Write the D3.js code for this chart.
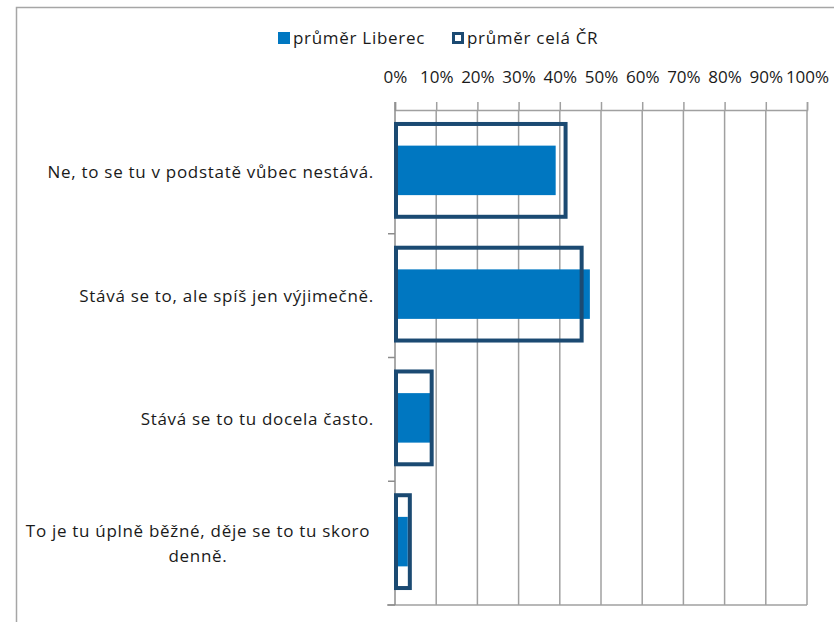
<!DOCTYPE html>
<html>
<head>
<meta charset="utf-8">
<script src="https://cdn.jsdelivr.net/npm/d3@7"></script>
<style>
  body { margin: 0; background: #fff; }
  svg text { font-family: "Open Sans", "Noto Sans", sans-serif; fill: #1a1a1a; }
</style>
</head>
<body>
<div id="chart"></div>
<script>
// categories (top to bottom) and values in percent
const categories = [
    "Ne, to se tu v podstatě vůbec nestává.",
    "Stává se to, ale spíš jen výjimečně.",
    "Stává se to tu docela často.",
    "To je tu úplně běžné, děje se to tu skoro denně."
];
const liberec = [39.0, 47.3, 8.5, 3.1];
const celaCR = [41.4, 45.3, 8.9, 3.6];
const tickValues = [0, 10, 20, 30, 40, 50, 60, 70, 80, 90, 100];
const seriesNames = ["průměr Liberec", "průměr celá ČR"];

const W = 834, H = 622;
const colFill = "#0077c1", colLine = "#1b4a72", colGrid = "#a0a0a0";
const fontSize = 17, spacing = 0.7;

const svg = d3.select("#chart").append("svg")
    .attr("width", W)
    .attr("height", H);

// chart border
svg.append("rect")
    .attr("x", 16.5).attr("y", 7.5)
    .attr("width", W + 20).attr("height", H + 20)
    .attr("fill", "none")
    .attr("stroke", "#a6a6a6")
    .attr("stroke-width", 1.5);

const x = d3.scaleLinear().domain([0, 100]).range([395, 807]);
const y = d3.scaleBand().domain(categories).range([110, 605]);

// vertical gridlines
svg.append("g").selectAll("line")
    .data(tickValues.slice(1))
    .join("line")
    .attr("x1", d => x(d)).attr("x2", d => x(d))
    .attr("y1", 110).attr("y2", 605)
    .attr("stroke", colGrid)
    .attr("stroke-width", 1.5);

// top axis
const xAxis = svg.append("g")
    .attr("transform", "translate(0,110)")
    .call(d3.axisTop(x).tickValues(tickValues).tickFormat(d => d + "%").tickSize(8).tickPadding(19));
xAxis.select(".domain").attr("stroke", colGrid).attr("stroke-width", 1.5);
xAxis.selectAll(".tick line").attr("stroke", colGrid).attr("stroke-width", 1.5);
xAxis.selectAll(".tick text")
    .attr("font-size", fontSize)
    .attr("fill", "#1a1a1a")
    .style("font-family", "'Open Sans', sans-serif");

// bottom line
svg.append("line")
    .attr("x1", x(0) - 8).attr("x2", x(100))
    .attr("y1", 605).attr("y2", 605)
    .attr("stroke", colGrid).attr("stroke-width", 1.5);

// left axis with ticks at band boundaries
svg.append("line")
    .attr("x1", x(0)).attr("x2", x(0))
    .attr("y1", 102).attr("y2", 605)
    .attr("stroke", "#8c8c8c").attr("stroke-width", 1.5);
svg.append("g").selectAll("line")
    .data(categories)
    .join("line")
    .attr("x1", x(0) - 7).attr("x2", x(0))
    .attr("y1", d => y(d) + y.bandwidth()).attr("y2", d => y(d) + y.bandwidth())
    .attr("stroke", "#8c8c8c").attr("stroke-width", 1.5);

// Liberec filled bars
const innerH = y.bandwidth() * 0.4;
svg.append("g").selectAll("rect")
    .data(liberec)
    .join("rect")
    .attr("x", x(0) + 1)
    .attr("y", (d, i) => y(categories[i]) + y.bandwidth() / 2 - innerH / 2 - 1.5)
    .attr("width", d => x(d) - x(0) - 1)
    .attr("height", innerH)
    .attr("fill", colFill);

// celá ČR outline bars
const outerH = y.bandwidth() * 0.75;
svg.append("g").selectAll("rect")
    .data(celaCR)
    .join("rect")
    .attr("x", x(0) + 1)
    .attr("y", (d, i) => y(categories[i]) + y.bandwidth() / 2 - outerH / 2 - 1.5)
    .attr("width", d => x(d) - x(0) - 1)
    .attr("height", outerH)
    .attr("fill", "none")
    .attr("stroke", colLine)
    .attr("stroke-width", 4);

// category labels
const labelRight = 374, maxW = 366;
const labels = svg.append("g").selectAll("text")
    .data(categories)
    .join("text")
    .attr("font-size", fontSize)
    .attr("letter-spacing", spacing)
    .text(d => d);

labels.each(function(d, i) {
    const t = d3.select(this);
    const cy = y(d) + y.bandwidth() / 2;
    if (this.getComputedTextLength() <= maxW) {
        t.attr("x", labelRight).attr("y", cy).attr("dy", "0.35em").attr("text-anchor", "end");
        return;
    }
    // wrap into lines, centered like the source
    const words = d.split(" ");
    const lines = [];
    let cur = [];
    t.text(null);
    const probe = t.append("tspan");
    words.forEach(w => {
        probe.text(cur.concat(w).join(" "));
        if (probe.node().getComputedTextLength() > maxW && cur.length) {
            lines.push(cur.join(" "));
            cur = [w];
        } else {
            cur.push(w);
        }
    });
    lines.push(cur.join(" "));
    probe.remove();
    const lh = 25;
    const cx = 198;
    t.attr("text-anchor", "middle");
    lines.forEach((ln, k) => {
        t.append("tspan")
            .attr("x", cx)
            .attr("y", cy - (lines.length - 1) * lh / 2 + k * lh)
            .attr("dy", "0.35em")
            .text(ln);
    });
});

// legend
const legend = svg.append("g").attr("transform", "translate(278,38)");
legend.append("rect")
    .attr("x", 0).attr("y", -6).attr("width", 12).attr("height", 12)
    .attr("fill", colFill);
legend.append("text")
    .attr("x", 15).attr("y", 0).attr("dy", "0.35em")
    .attr("font-size", fontSize)
    .attr("letter-spacing", spacing)
    .text(seriesNames[0]);
legend.append("rect")
    .attr("x", 175.5).attr("y", -4.5).attr("width", 9).attr("height", 9)
    .attr("fill", "#fff")
    .attr("stroke", colLine).attr("stroke-width", 3);
legend.append("text")
    .attr("x", 189).attr("y", 0).attr("dy", "0.35em")
    .attr("font-size", fontSize)
    .attr("letter-spacing", spacing)
    .text(seriesNames[1]);
</script>
</body>
</html>
